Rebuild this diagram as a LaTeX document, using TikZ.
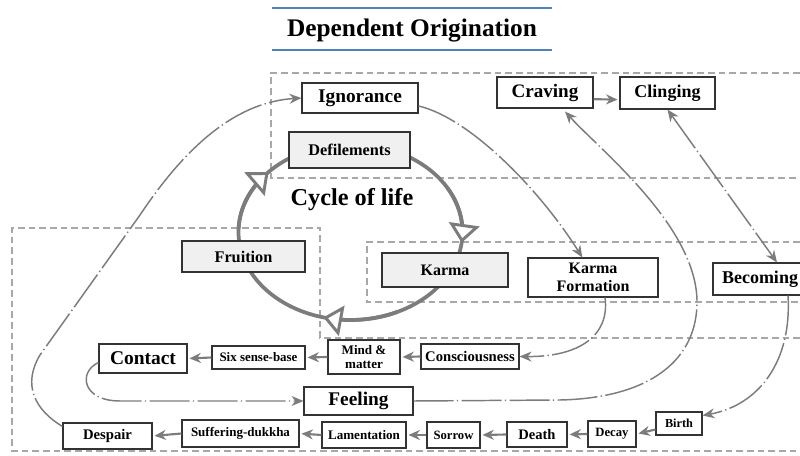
\documentclass[tikz,border=0pt]{standalone}
\usepackage{fontspec}
\setmainfont{Liberation Serif}
\usetikzlibrary{arrows.meta,calc}
\newcommand\fsz[2]{\fontsize{#1}{#2}\selectfont}
\definecolor{lgray}{HTML}{7C7C7C}
\definecolor{dgray}{HTML}{A8A8A8}
\definecolor{titleblue}{HTML}{4F81BD}
\definecolor{boxfill}{HTML}{F0F0F0}
\tikzset{
  bx/.style={draw=black!80, line width=0.8pt, inner sep=0pt, align=center, fill=white},
  gbx/.style={bx, fill=boxfill},
  sz/.style 2 args={minimum width=#1*0.75pt, minimum height=#2*0.75pt},
  dsh/.style={draw=dgray, line width=1pt, dash pattern=on 5pt off 3pt},
  chain/.style={draw=lgray, line width=1.6pt, shorten >=1.5pt, -{Stealth[length=8.5pt,width=7.5pt]}},
  flow/.style={draw=lgray, line width=1.1pt, dash pattern=on 30pt off 2.5pt on 1pt off 2.5pt},
  flowarr/.style={flow, -{Stealth[length=9pt,width=7.5pt]}},
  cyc/.style={draw=lgray, line width=2.8pt},
  cyctip/.style={cyc, -{Triangle[length=14pt,width=23pt,line width=2.2pt,fill=white]}},
}
\begin{document}
\begin{tikzpicture}[x=0.75pt, y=-0.75pt]
\useasboundingbox (0,0) rectangle (800,456);
\clip (0,0) rectangle (800,456);

% title
\draw[titleblue, line width=0.8pt] (272,8) -- (552,8);
\draw[titleblue, line width=0.8pt] (272,50) -- (552,50);
\node[font=\bfseries\fsz{19}{22}] (title) at (412,31) {Dependent Origination};

% dashed regions
\draw[dsh] (800,73) -- (271,73) -- (271,178) -- (800,178);
\draw[dsh] (800,242) -- (367,242) -- (367,302) -- (800,302);
\draw[dsh] (800,338) -- (320,338) -- (320,228) -- (12,228) -- (12,451) -- (800,451);

% cycle of life
\draw[cyc] plot[domain=0:360, samples=121, smooth] ({350.5+112*cos(\x)},{232-88*sin(\x)});
\draw[cyctip] plot[domain=30:-7, samples=25, smooth] ({350.5+112*cos(\x)},{232-88*sin(\x)});
\draw[cyctip] plot[domain=-65:-104, samples=25, smooth] ({350.5+112*cos(\x)},{232-88*sin(\x)});
\draw[cyctip] plot[domain=178:137, samples=25, smooth] ({350.5+112*cos(\x)},{232-88*sin(\x)});
\node[font=\bfseries\fsz{18.2}{20}, anchor=base] (cyctext) at (352,206) {Cycle of life};

% boxes
\node[bx, sz={116}{30}, font=\bfseries\fsz{14.5}{16}] (ign) at (360,98) {Ignorance};
\node[gbx, sz={121}{36}, font=\bfseries\fsz{12.2}{14}] (def) at (349.5,150) {Defilements};
\node[bx, sz={96}{31}, font=\bfseries\fsz{14.3}{16}] (crav) at (545,92.5) {Craving};
\node[bx, sz={95}{32}, font=\bfseries\fsz{13.5}{15}] (cling) at (667.5,93) {Clinging};
\node[gbx, sz={123}{31}, font=\bfseries\fsz{12.2}{14}] (fru) at (243.5,256.5) {Fruition};
\node[gbx, sz={126}{34}, font=\bfseries\fsz{12}{14}] (karma) at (445,270) {Karma};
\node[bx, sz={130}{39}, font=\bfseries\fsz{12}{13}] (kf) at (593,277.5) {Karma\\Formation};
\node[bx, sz={94}{32}, font=\bfseries\fsz{13.5}{15}] (bec) at (760,279) {Becoming};
\node[bx, sz={98}{25}, font=\bfseries\fsz{11}{13}] (cons) at (470,356.5) {Consciousness};
\node[bx, sz={72}{34}, font=\bfseries\fsz{9.8}{10.3}] (mind) at (364,357) {Mind \&\\matter};
\node[bx, sz={93}{23}, font=\bfseries\fsz{9.7}{11}] (six) at (258.5,357.5) {Six sense-base};
\node[bx, sz={88}{29}, font=\bfseries\fsz{14.6}{16}] (contact) at (143,358.5) {Contact};
\node[bx, sz={109}{28}, font=\bfseries\fsz{14.5}{16}] (feel) at (358.5,401) {Feeling};
\node[bx, sz={89}{26}, font=\bfseries\fsz{11}{13}] (desp) at (107.5,436) {Despair};
\node[bx, sz={117}{27}, font=\bfseries\fsz{9.75}{11}] (suff) at (240.5,433.5) {Suffering-dukkha};
\node[bx, sz={84}{26}, font=\bfseries\fsz{9.8}{11}] (lam) at (364,435) {Lamentation};
\node[bx, sz={53}{26}, font=\bfseries\fsz{9.5}{11}] (sor) at (453.5,435) {Sorrow};
\node[bx, sz={60}{25}, font=\bfseries\fsz{10.9}{12}] (death) at (537,434.5) {Death};
\node[bx, sz={48}{26}, font=\bfseries\fsz{9.5}{11}] (decay) at (612,434) {Decay};
\node[bx, sz={46}{23}, font=\bfseries\fsz{9.2}{11}] (birth) at (679,423.5) {Birth};

% chain arrows
\draw[chain] ([yshift=-5pt]crav.east) -- ([yshift=-5pt]cling.west);
\draw[chain] (cons.west) -- (mind.east);
\draw[chain] (mind.west) -- (six.east);
\draw[chain] (six.west) -- (contact.east);
\draw[chain] ([yshift=-4.5pt]birth.west) -- (decay.east);
\draw[chain] (decay.west) -- (death.east);
\draw[chain] (death.west) -- (sor.east);
\draw[chain] (sor.west) -- (lam.east);
\draw[chain] (lam.west) -- (suff.east);
\draw[chain] (suff.west) -- (desp.east);

% flow arrows
\draw[flowarr] ([yshift=-3pt]desp.north west) .. controls (35,410) and (22,385) .. (40,355)
  -- (140,215) .. controls (190,140) and (240,102) .. (ign.west);
\draw[flowarr] ([yshift=-6pt]ign.east) .. controls (470,118) and (540,190) .. ([xshift=-8pt]kf.north);
\draw[flowarr] ([xshift=9pt]kf.south) .. controls (610,335) and (580,357) .. (cons.east);
\draw[flowarr, shorten >=3pt] (feel.east) -- (560,400) .. controls (650,398) and (698,360) .. (697,300)
  .. controls (695,225) and (600,150) .. ([xshift=13pt]crav.south);
\draw[flowarr] ([yshift=-3pt]contact.west) .. controls (78,372) and (82,401) .. (120,401) -- (feel.west);
\draw[flowarr] ([xshift=21pt]bec.south) .. controls (792,360) and (760,405) .. ([yshift=6pt]birth.east);
\draw[flow, {Stealth[length=9pt,width=7.5pt]}-{Stealth[length=9pt,width=7.5pt]}] (cling.south) -- ([xshift=12.75pt]bec.north);
\end{tikzpicture}
\end{document}
